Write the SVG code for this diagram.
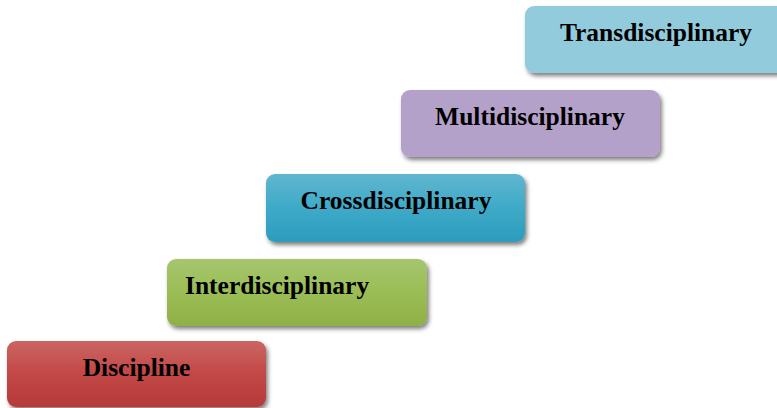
<svg xmlns="http://www.w3.org/2000/svg" width="777" height="408" viewBox="0 0 777 408">
<style>
.lbl{font-family:"Liberation Serif","Times New Roman",serif;font-weight:bold;font-size:25.5px;fill:#000;}
.box{filter:url(#sh);}
</style>
<defs>
<filter id="sh" x="-10%" y="-20%" width="130%" height="150%">
<feDropShadow dx="2" dy="3" stdDeviation="2.2" flood-color="#000" flood-opacity="0.5"/>
</filter>
<linearGradient id="gRed" x1="0" y1="0" x2="0" y2="1">
<stop offset="0" stop-color="#cb6563"/><stop offset="0.5" stop-color="#c24846"/><stop offset="1" stop-color="#b63a3a"/>
</linearGradient>
<linearGradient id="gGreen" x1="0" y1="0" x2="0" y2="1">
<stop offset="0" stop-color="#a6c66f"/><stop offset="0.5" stop-color="#9bbd55"/><stop offset="1" stop-color="#8eb046"/>
</linearGradient>
<linearGradient id="gBlue" x1="0" y1="0" x2="0" y2="1">
<stop offset="0" stop-color="#60b6cf"/><stop offset="0.5" stop-color="#3eaac8"/><stop offset="1" stop-color="#2c9cbd"/>
</linearGradient>
</defs>
<g id="discipline">
<rect class="box" x="7" y="341" width="259" height="66" rx="9" fill="url(#gRed)"/>
<text class="lbl" x="136.5" y="376" text-anchor="middle">Discipline</text>
</g>
<g id="interdisciplinary">
<rect class="box" x="167" y="259" width="260" height="67" rx="9" fill="url(#gGreen)"/>
<text class="lbl" x="185" y="294">Interdisciplinary</text>
</g>
<g id="crossdisciplinary">
<rect class="box" x="266" y="174" width="259" height="68" rx="9" fill="url(#gBlue)"/>
<text class="lbl" x="396" y="209" text-anchor="middle">Crossdisciplinary</text>
</g>
<g id="multidisciplinary">
<rect class="box" x="401" y="90" width="259" height="67" rx="9" fill="#b4a1ca"/>
<text class="lbl" x="530" y="125" text-anchor="middle">Multidisciplinary</text>
</g>
<g id="transdisciplinary">
<rect class="box" x="525" y="6" width="262" height="67" rx="9" fill="#91cbdc"/>
<text class="lbl" x="656" y="41" text-anchor="middle">Transdisciplinary</text>
</g>
<g id="connectors"></g>
</svg>
